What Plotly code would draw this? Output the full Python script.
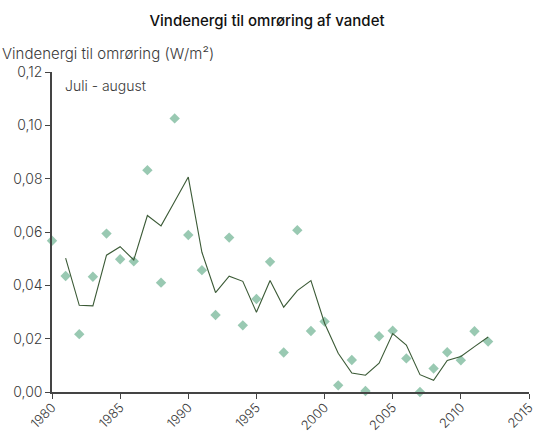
import plotly.graph_objects as go

# Annual wind energy available for mixing the water (July-August)
years = list(range(1980, 2013))
wind_energy = [0.0567, 0.0435, 0.0217, 0.0432, 0.0594, 0.0498, 0.0490, 0.0832, 0.0410, 0.1026,
               0.0589, 0.0457, 0.0289, 0.0579, 0.0250, 0.0349, 0.0488, 0.0148, 0.0607, 0.0229,
               0.0264, 0.0025, 0.0120, 0.0004, 0.0209, 0.0230, 0.0126, 0.0000, 0.0088, 0.0149,
               0.0119, 0.0228, 0.0189]

# Running mean
mean_years = list(range(1981, 2013))
running_mean = [0.0502, 0.0325, 0.0323, 0.0513, 0.0545, 0.0495, 0.0662, 0.0623, 0.0714, 0.0806,
                0.0524, 0.0373, 0.0434, 0.0415, 0.0299, 0.0418, 0.0318, 0.0380, 0.0418, 0.0258,
                0.0145, 0.0071, 0.0063, 0.0108, 0.0219, 0.0176, 0.0065, 0.0044, 0.0118, 0.0133,
                0.0170, 0.0206]

x_ticks = list(range(1980, 2016, 5))
y_ticks = [0, 0.02, 0.04, 0.06, 0.08, 0.10, 0.12]

FONT = "Inter"
TXT = "#3a3a3a"
LIGHT = 300
PLOT_W = 534 - 52 - 5

fig = go.Figure()
fig.add_trace(go.Scatter(
    x=years, y=wind_energy, mode="markers",
    marker=dict(symbol="diamond", size=8, color="#99c9b2"),
    cliponaxis=False, showlegend=False,
))
fig.add_trace(go.Scatter(
    x=mean_years, y=running_mean, mode="lines",
    line=dict(color="#3b5a36", width=1.1),
    cliponaxis=False, showlegend=False,
))

fig.update_layout(
    width=534, height=436,
    margin=dict(l=52, r=5, t=72, b=44),
    plot_bgcolor="white", paper_bgcolor="white",
    separators=",.",
    font=dict(family=FONT, size=13, color=TXT, weight=LIGHT),
    title=dict(text="Vindenergi til omrøring af vandet", x=0.5, xanchor="center",
               y=0.953, yanchor="middle", font=dict(family=FONT, size=15, color="#111", weight=500)),
    xaxis=dict(range=[1980, 2015], tickvals=x_ticks, ticktext=[str(v) for v in x_ticks],
               tickangle=-45, ticks="outside", ticklen=5, tickcolor="#444",
               showline=True, linecolor="#444", linewidth=1.5, ticklabeloverflow="allow",
               ticklabelstandoff=-4,
               showgrid=False, zeroline=False, automargin=False,
               tickfont=dict(family=FONT, size=13, color=TXT, weight=LIGHT)),
    yaxis=dict(range=[0, 0.12], tickvals=y_ticks, tickformat=".2f",
               ticks="outside", ticklen=5, tickcolor="#444",
               showline=True, linecolor="#444", linewidth=1.5,
               showgrid=False, zeroline=False, automargin=False,
               tickfont=dict(family=FONT, size=14, color=TXT, weight=LIGHT)),
    annotations=[
        dict(text="Vindenergi til omrøring (W/m²)", xref="paper", yref="paper",
             x=-52 / PLOT_W, y=1 + 19 / 320, xanchor="left", yanchor="middle",
             showarrow=False, font=dict(family=FONT, size=15, color=TXT, weight=LIGHT)),
        dict(text="Juli - august", xref="paper", yref="paper",
             x=11 / PLOT_W, y=1 - 13 / 320, xanchor="left", yanchor="middle",
             showarrow=False, font=dict(family=FONT, size=14, color=TXT, weight=LIGHT)),
    ],
)

fig.write_html("out.html")
